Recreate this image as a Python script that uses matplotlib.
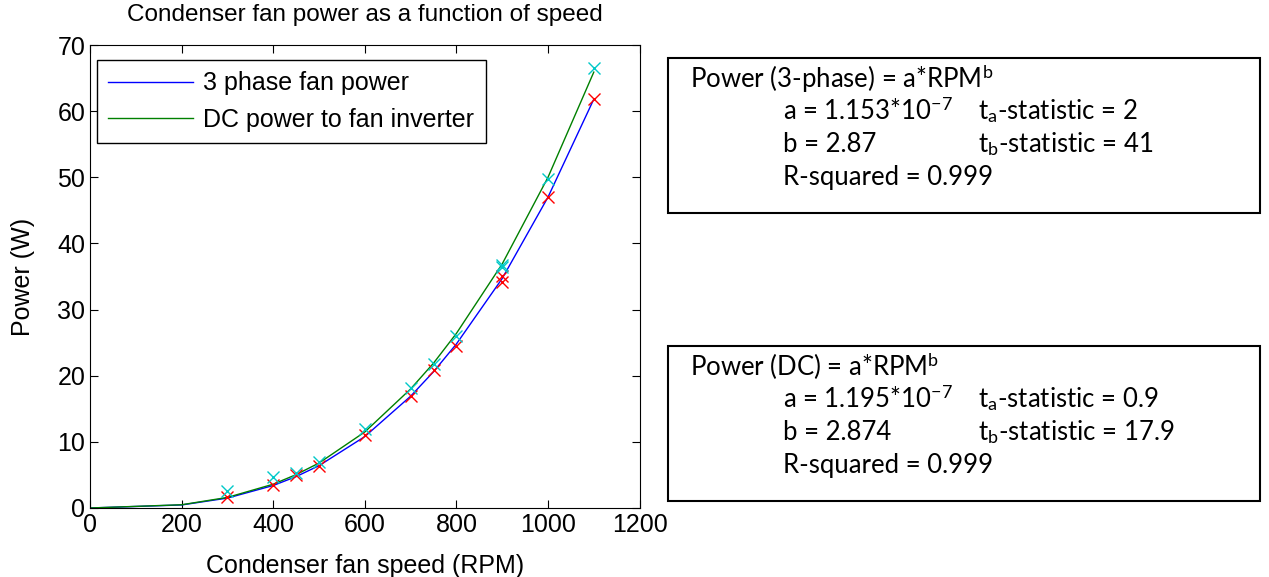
import matplotlib.pyplot as plt

# fitted curves
fit_rpm = [0, 200, 300, 400, 450, 500, 600, 700, 750, 800, 900, 1000, 1100]
fit_3ph = [0, 0.46, 1.5, 3.4, 4.75, 6.4, 10.8, 16.9, 20.6, 24.8, 34.7, 47.0, 61.8]
fit_dc = [0, 0.49, 1.6, 3.6, 5.05, 6.8, 11.5, 18.0, 21.9, 26.4, 36.9, 50.0, 65.9]

# measured points
meas_rpm = [300, 400, 450, 500, 600, 700, 750, 800, 900, 900, 1000, 1100]
meas_3ph = [1.6, 3.5, 5.0, 6.3, 11.0, 17.0, 20.8, 24.5, 34.2, 35.0, 47.0, 61.8]
meas_dc = [2.6, 4.7, 5.3, 7.0, 11.9, 18.2, 21.8, 26.0, 36.5, 36.8, 49.7, 66.5]

plt.rcParams['font.family'] = 'Liberation Sans'
plt.rcParams['mathtext.fontset'] = 'custom'
plt.rcParams['mathtext.rm'] = 'Lato'
plt.rcParams['mathtext.it'] = 'Lato:italic'

fig = plt.figure(figsize=(12.69, 5.77), dpi=100)
ax = fig.add_axes([0.071, 0.1196, 0.433, 0.8024])

ax.plot(fit_rpm, fit_3ph, color='#0000ff', lw=1, label='3 phase fan power')
ax.plot(fit_rpm, fit_dc, color='#008000', lw=1, label='DC power to fan inverter')
ax.plot(meas_rpm, meas_3ph, 'x', color='red', ms=8, mew=1)
ax.plot(meas_rpm, meas_dc, 'x', color='#00c8c8', ms=8, mew=1)

ax.set_xlim(0, 1200)
ax.set_ylim(0, 70)
ax.set_xticks(range(0, 1201, 200))
ax.set_yticks(range(0, 71, 10))
ax.tick_params(direction='in', top=True, right=True, labelsize=18, length=6)
ax.set_title('Condenser fan power as a function of speed', fontsize=17.5, pad=17)
ax.set_xlabel('Condenser fan speed (RPM)', fontsize=18, labelpad=12)
ax.set_ylabel('Power (W)', fontsize=18, labelpad=16)
ax.legend(loc='upper left', bbox_to_anchor=(7 / 550, 1 - 15 / 463), borderaxespad=0,
          fontsize=18, fancybox=False, edgecolor='black', handlelength=3.4,
          handletextpad=0.4, framealpha=1, labelspacing=0.5, borderpad=0.45)

boxes = [
    (0.864, ['Power (3-phase) = a*RPM$^{\\mathrm{b}}$',
             'a = 1.153*10$^{\\mathrm{-7}}$', 'b = 2.87', 'R-squared = 0.999'],
     ['t$_{\\mathrm{a}}$-statistic = 2', 't$_{\\mathrm{b}}$-statistic = 41']),
    (0.365, ['Power (DC) = a*RPM$^{\\mathrm{b}}$',
             'a = 1.195*10$^{\\mathrm{-7}}$', 'b = 2.874', 'R-squared = 0.999'],
     ['t$_{\\mathrm{a}}$-statistic = 0.9', 't$_{\\mathrm{b}}$-statistic = 17.9']),
]
for y0, left, right in boxes:
    rect = plt.Rectangle((668 / 1269, y0 - 0.269 + 0.036), 592 / 1269, 0.269,
                         transform=fig.transFigure, fill=False, lw=1.5, ec='black')
    fig.add_artist(rect)
    dy = 33 / 577
    fig.text(690 / 1269, y0, left[0], fontsize=18.5, family='Lato', va='center')
    for i in range(1, 4):
        fig.text(783 / 1269, y0 - i * dy, left[i], fontsize=18.5, family='Lato', va='center')
    for i in range(2):
        fig.text(978 / 1269, y0 - (i + 1) * dy, right[i], fontsize=18.5, family='Lato', va='center')

fig.savefig('out.png', dpi=100)
